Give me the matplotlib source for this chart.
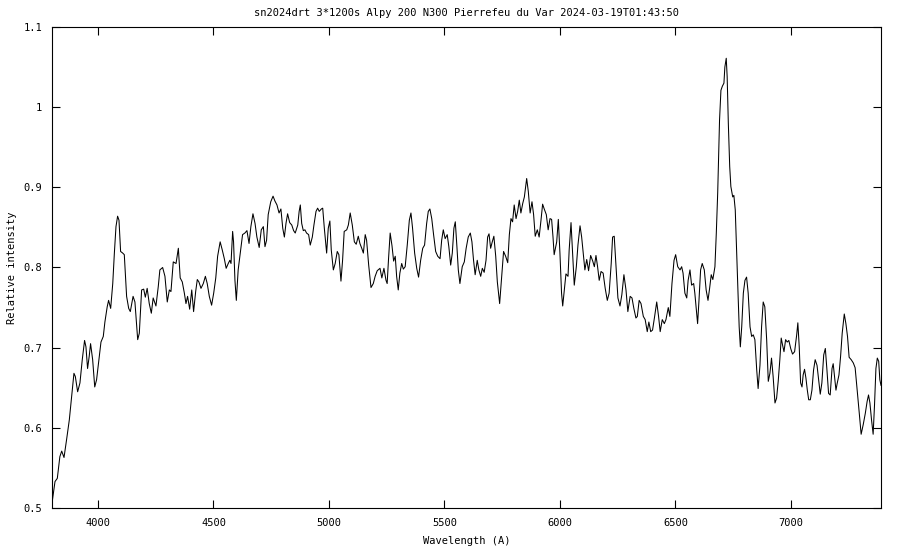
import numpy as np
import matplotlib
matplotlib.use('Agg')
import matplotlib.pyplot as plt
import matplotlib.ticker as ticker

# spectrum
wavelength = [
    3801, 3814, 3824, 3835, 3843, 3853, 3864, 3876, 3886, 3896, 3902, 3912, 3922, 3932, 3942, 3948,
    3955, 3962, 3968, 3977, 3986, 3994, 4004, 4013, 4023, 4030, 4040, 4046, 4055, 4064, 4071, 4078,
    4085, 4091, 4098, 4107, 4114, 4124, 4133, 4140, 4152, 4160, 4172, 4179, 4189, 4198, 4205, 4213,
    4222, 4231, 4239, 4251, 4261, 4268, 4280, 4290, 4300, 4309, 4316, 4326, 4338, 4348, 4356, 4365,
    4374, 4381, 4388, 4397, 4406, 4414, 4423, 4430, 4437, 4446, 4456, 4465, 4473, 4482, 4492, 4501,
    4510, 4518, 4529, 4538, 4547, 4555, 4564, 4571, 4576, 4583, 4587, 4593, 4599, 4607, 4616, 4626,
    4636, 4645, 4654, 4662, 4671, 4680, 4688, 4698, 4707, 4716, 4723, 4730, 4737, 4748, 4758, 4766,
    4775, 4784, 4792, 4800, 4807, 4814, 4821, 4830, 4839, 4847, 4854, 4865, 4871, 4876, 4882, 4889,
    4896, 4903, 4912, 4919, 4928, 4935, 4944, 4951, 4958, 4967, 4973, 4980, 4990, 4997, 5004, 5010,
    5019, 5027, 5036, 5043, 5052, 5059, 5066, 5077, 5084, 5092, 5101, 5110, 5118, 5127, 5134, 5142,
    5149, 5157, 5163, 5172, 5182, 5192, 5200, 5209, 5221, 5229, 5238, 5247, 5252, 5258, 5265, 5273,
    5280, 5287, 5293, 5300, 5307, 5315, 5322, 5330, 5339, 5348, 5355, 5362, 5371, 5380, 5388, 5397,
    5406, 5414, 5423, 5430, 5437, 5445, 5453, 5462, 5471, 5481, 5488, 5495, 5503, 5512, 5519, 5527,
    5534, 5541, 5547, 5554, 5560, 5567, 5577, 5586, 5594, 5603, 5612, 5619, 5626, 5633, 5642, 5649,
    5657, 5664, 5672, 5680, 5687, 5693, 5700, 5707, 5714, 5722, 5729, 5739, 5748, 5756, 5765, 5774,
    5781, 5788, 5795, 5802, 5810, 5817, 5824, 5831, 5839, 5846, 5856, 5863, 5871, 5879, 5886, 5893,
    5902, 5910, 5918, 5925, 5932, 5941, 5949, 5957, 5964, 5970, 5975, 5986, 5993, 6000, 6007, 6012,
    6019, 6026, 6035, 6040, 6048, 6055, 6062, 6071, 6078, 6087, 6094, 6101, 6108, 6116, 6124, 6133,
    6142, 6149, 6156, 6163, 6170, 6178, 6187, 6196, 6205, 6213, 6222, 6228, 6235, 6242, 6251, 6260,
    6268, 6277, 6286, 6294, 6304, 6312, 6320, 6329, 6335, 6343, 6351, 6361, 6369, 6378, 6385, 6393,
    6401, 6410, 6419, 6427, 6434, 6443, 6452, 6459, 6469, 6476, 6485, 6494, 6501, 6510, 6520, 6527,
    6533, 6541, 6549, 6555, 6563, 6570, 6579, 6584, 6592, 6596, 6602, 6609, 6616, 6625, 6633, 6641,
    6648, 6655, 6662, 6671, 6677, 6683, 6687, 6691, 6697, 6703, 6710, 6714, 6720, 6724, 6729, 6735,
    6740, 6748, 6753, 6759, 6765, 6771, 6776, 6781, 6787, 6794, 6801, 6808, 6815, 6823, 6830, 6837,
    6844, 6852, 6858, 6866, 6873, 6880, 6887, 6895, 6902, 6909, 6916, 6923, 6931, 6938, 6945, 6952,
    6958, 6964, 6970, 6977, 6984, 6991, 6999, 7007, 7016, 7025, 7030, 7036, 7042, 7048, 7053, 7059,
    7065, 7071, 7077, 7084, 7091, 7098, 7105, 7113, 7120, 7127, 7134, 7142, 7149, 7156, 7163, 7170,
    7178, 7183, 7189, 7195, 7200, 7208, 7215, 7222, 7231, 7238, 7245, 7252, 7261, 7270, 7278, 7287,
    7296, 7304, 7313, 7322, 7330, 7336, 7342, 7349, 7356, 7362, 7368, 7374, 7380, 7385, 7390,
]
intensity = [
    0.506, 0.533, 0.537, 0.564, 0.571, 0.563, 0.585, 0.610, 0.639, 0.668, 0.664, 0.645, 0.656, 0.685, 0.709, 0.701,
    0.674, 0.689, 0.705, 0.685, 0.651, 0.660, 0.685, 0.707, 0.714, 0.732, 0.751, 0.759, 0.749, 0.780, 0.818, 0.851,
    0.864, 0.859, 0.820, 0.818, 0.816, 0.764, 0.749, 0.745, 0.764, 0.757, 0.710, 0.718, 0.772, 0.773, 0.763, 0.774,
    0.755, 0.743, 0.762, 0.752, 0.776, 0.797, 0.800, 0.789, 0.757, 0.772, 0.770, 0.807, 0.805, 0.824, 0.787, 0.782,
    0.768, 0.755, 0.764, 0.748, 0.772, 0.745, 0.770, 0.785, 0.782, 0.774, 0.780, 0.789, 0.780, 0.764, 0.753, 0.768,
    0.787, 0.814, 0.832, 0.822, 0.811, 0.799, 0.805, 0.809, 0.805, 0.845, 0.832, 0.784, 0.759, 0.797, 0.818, 0.841,
    0.843, 0.846, 0.830, 0.851, 0.867, 0.855, 0.838, 0.825, 0.847, 0.851, 0.826, 0.834, 0.866, 0.882, 0.889, 0.883,
    0.878, 0.868, 0.873, 0.849, 0.838, 0.855, 0.867, 0.856, 0.853, 0.846, 0.843, 0.853, 0.870, 0.878, 0.855, 0.846,
    0.847, 0.843, 0.841, 0.828, 0.838, 0.853, 0.870, 0.874, 0.870, 0.873, 0.874, 0.849, 0.818, 0.849, 0.858, 0.822,
    0.797, 0.805, 0.820, 0.816, 0.783, 0.809, 0.845, 0.847, 0.853, 0.868, 0.853, 0.832, 0.829, 0.839, 0.830, 0.824,
    0.818, 0.841, 0.834, 0.803, 0.775, 0.780, 0.789, 0.796, 0.799, 0.787, 0.799, 0.784, 0.780, 0.811, 0.843, 0.827,
    0.808, 0.814, 0.789, 0.772, 0.793, 0.805, 0.798, 0.801, 0.828, 0.859, 0.868, 0.849, 0.818, 0.799, 0.788, 0.809,
    0.824, 0.828, 0.855, 0.870, 0.873, 0.861, 0.841, 0.820, 0.814, 0.811, 0.834, 0.847, 0.836, 0.841, 0.826, 0.803,
    0.818, 0.849, 0.857, 0.826, 0.797, 0.780, 0.801, 0.807, 0.824, 0.838, 0.843, 0.832, 0.809, 0.791, 0.809, 0.797,
    0.789, 0.799, 0.794, 0.809, 0.838, 0.842, 0.824, 0.832, 0.839, 0.814, 0.782, 0.755, 0.789, 0.820, 0.814, 0.806,
    0.841, 0.861, 0.857, 0.878, 0.861, 0.870, 0.884, 0.868, 0.880, 0.888, 0.911, 0.895, 0.868, 0.882, 0.866, 0.839,
    0.847, 0.838, 0.859, 0.879, 0.873, 0.866, 0.847, 0.861, 0.860, 0.838, 0.816, 0.832, 0.860, 0.818, 0.768, 0.752,
    0.772, 0.792, 0.789, 0.822, 0.856, 0.818, 0.778, 0.801, 0.828, 0.852, 0.838, 0.818, 0.797, 0.810, 0.796, 0.815,
    0.808, 0.801, 0.815, 0.801, 0.784, 0.795, 0.793, 0.774, 0.759, 0.768, 0.805, 0.838, 0.839, 0.805, 0.762, 0.752,
    0.766, 0.791, 0.772, 0.745, 0.764, 0.762, 0.749, 0.737, 0.739, 0.759, 0.755, 0.739, 0.735, 0.720, 0.732, 0.720,
    0.722, 0.739, 0.757, 0.739, 0.720, 0.735, 0.730, 0.735, 0.750, 0.739, 0.780, 0.809, 0.816, 0.801, 0.797, 0.801,
    0.793, 0.768, 0.762, 0.784, 0.797, 0.778, 0.780, 0.768, 0.743, 0.730, 0.759, 0.797, 0.805, 0.797, 0.772, 0.759,
    0.774, 0.791, 0.785, 0.801, 0.843, 0.893, 0.940, 0.984, 1.021, 1.026, 1.030, 1.050, 1.061, 1.038, 0.980, 0.926,
    0.901, 0.888, 0.890, 0.872, 0.822, 0.768, 0.726, 0.701, 0.726, 0.768, 0.784, 0.788, 0.768, 0.726, 0.714, 0.716,
    0.710, 0.672, 0.649, 0.678, 0.726, 0.757, 0.751, 0.710, 0.658, 0.668, 0.687, 0.664, 0.631, 0.637, 0.658, 0.685,
    0.712, 0.703, 0.695, 0.710, 0.707, 0.709, 0.699, 0.692, 0.695, 0.716, 0.731, 0.701, 0.656, 0.651, 0.666, 0.673,
    0.662, 0.647, 0.635, 0.635, 0.647, 0.672, 0.685, 0.678, 0.660, 0.642, 0.656, 0.691, 0.699, 0.672, 0.643, 0.641,
    0.674, 0.680, 0.664, 0.647, 0.655, 0.666, 0.689, 0.718, 0.742, 0.730, 0.714, 0.688, 0.685, 0.681, 0.675, 0.647,
    0.618, 0.592, 0.604, 0.618, 0.633, 0.641, 0.631, 0.610, 0.592, 0.629, 0.674, 0.687, 0.683, 0.660, 0.653,
]

title = 'sn2024drt 3*1200s Alpy 200 N300 Pierrefeu du Var 2024-03-19T01:43:50'
xticks = [4000, 4500, 5000, 5500, 6000, 6500, 7000]
yticks = [0.5, 0.6, 0.7, 0.8, 0.9, 1.0, 1.1]

plt.rcParams['font.family'] = ['DejaVu Sans Mono']
plt.rcParams['font.size'] = 7.5

fig = plt.figure(figsize=(9, 5.5), dpi=100, facecolor='w')
ax = fig.add_axes([52 / 900, 1 - 508 / 550, 829 / 900, 481 / 550])

ax.plot(wavelength, intensity, color='k', linewidth=0.75)

ax.set_xlim(3801, 7390)
ax.set_ylim(0.5, 1.1)
ax.set_xticks(xticks)
ax.set_yticks(yticks)
ax.yaxis.set_major_formatter(ticker.FormatStrFormatter('%g'))
ax.tick_params(axis='both', which='both', direction='in', length=6, width=0.8,
               top=True, right=True, labelsize=7.5, pad=7, colors='k')
for s in ax.spines.values():
    s.set_linewidth(0.8)
    s.set_color('k')

ax.set_title(title, fontsize=7.5, pad=8)
ax.set_xlabel('Wavelength (A)', fontsize=7.5, labelpad=6)
ax.set_ylabel('Relative intensity', fontsize=7.5, labelpad=5)

fig.savefig('out.png', dpi=100)
